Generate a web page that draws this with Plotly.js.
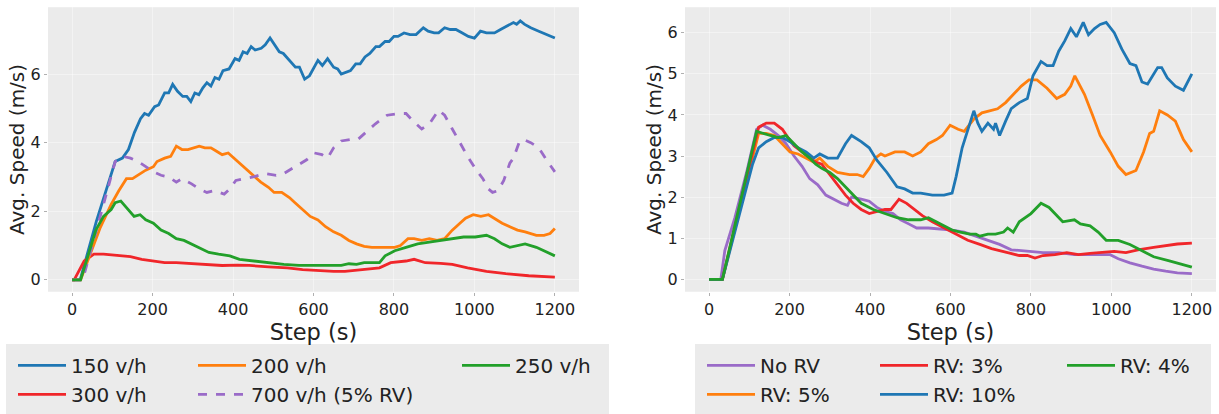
<!DOCTYPE html>
<html>
<head>
<meta charset="utf-8">
<script src="https://cdn.plot.ly/plotly-3.0.1.min.js"></script>
<style>html,body{margin:0;padding:0;background:#fff;}#chart{width:1219px;height:414px;}</style>
</head>
<body>
<div id="chart"></div>
<script>
// ---------- Left panel: traffic flows ----------
const x150 = [0,20,60,107,125,140,155,170,180,190,205,215,230,240,250,262,275,285,295,305,315,325,335,345,355,365,375,390,405,415,425,435,445,455,470,480,492,500,515,525,540,555,565,578,590,600,611,622,635,650,660,669,680,692,705,716,728,740,755,764,778,788,800,810,825,840,855,873,885,900,911,926,940,954,970,985,1000,1015,1030,1050,1065,1080,1097,1105,1114,1125,1140,1160,1180,1200];
const y150 = [0,0,1.7,3.45,3.55,3.8,4.3,4.7,4.85,4.8,5.05,5.1,5.45,5.45,5.7,5.5,5.35,5.35,5.2,5.45,5.4,5.6,5.75,5.65,5.9,5.85,6.1,6.15,6.45,6.4,6.65,6.6,6.8,6.7,6.75,6.85,7.05,6.9,6.65,6.6,6.4,6.2,6.2,5.85,5.95,6.15,6.4,6.25,6.45,6.2,6.15,6.0,6.05,6.1,6.3,6.3,6.5,6.6,6.8,6.8,6.95,6.95,7.1,7.1,7.2,7.15,7.15,7.35,7.25,7.2,7.2,7.35,7.3,7.3,7.2,7.1,7.05,7.25,7.2,7.2,7.3,7.4,7.5,7.45,7.55,7.45,7.35,7.25,7.15,7.05];

const x200 = [0,21,69,97,116,135,150,164,183,202,211,230,245,259,273,288,302,316,330,345,359,373,388,402,416,430,450,469,488,502,521,540,554,573,592,611,630,650,669,688,707,726,745,764,783,802,816,835,850,869,888,907,926,945,964,978,997,1016,1035,1050,1069,1088,1107,1126,1140,1154,1173,1188,1200];
const y200 = [0,0,1.5,2.2,2.6,2.95,2.95,3.05,3.2,3.3,3.45,3.55,3.6,3.9,3.8,3.8,3.85,3.9,3.85,3.85,3.75,3.65,3.7,3.55,3.4,3.25,3.05,2.85,2.7,2.55,2.55,2.4,2.25,2.05,1.85,1.75,1.55,1.4,1.3,1.15,1.05,0.98,0.95,0.95,0.95,0.95,1.0,1.2,1.2,1.15,1.2,1.15,1.2,1.45,1.65,1.8,1.9,1.85,1.9,1.8,1.65,1.55,1.45,1.4,1.35,1.3,1.3,1.35,1.5];

const x250 = [0,21,59,78,97,107,121,135,154,169,183,202,221,240,259,278,297,316,340,364,392,416,450,488,526,564,602,640,669,688,707,726,754,764,778,802,830,859,888,916,945,973,1002,1030,1050,1069,1088,1107,1126,1154,1183,1200];
const y250 = [0,0,1.45,1.85,2.05,2.25,2.3,2.1,1.85,1.9,1.75,1.65,1.45,1.35,1.2,1.15,1.05,0.95,0.8,0.75,0.7,0.6,0.55,0.5,0.45,0.42,0.42,0.4,0.42,0.47,0.45,0.5,0.5,0.5,0.7,0.85,0.95,1.05,1.1,1.15,1.2,1.25,1.25,1.3,1.2,1.05,0.95,1.0,1.05,0.95,0.8,0.7];

const x300 = [0,5,30,54,78,116,145,173,202,230,259,297,335,373,411,440,488,535,573,611,650,678,716,764,792,830,850,878,916,945,983,1030,1078,1135,1200];
const y300 = [0,0,0.55,0.75,0.75,0.72,0.68,0.6,0.55,0.5,0.5,0.48,0.45,0.42,0.43,0.42,0.38,0.35,0.3,0.27,0.25,0.25,0.3,0.35,0.5,0.55,0.6,0.5,0.48,0.45,0.35,0.25,0.18,0.12,0.08];

const x700 = [0,26,50,107,126,145,164,183,202,221,240,259,273,297,316,335,354,378,392,407,430,450,478,507,526,554,583,602,621,635,650,669,697,711,735,754,783,811,830,850,869,888,911,926,945,964,983,1002,1021,1035,1045,1059,1073,1088,1097,1111,1120,1140,1160,1179,1200];
const y700 = [0,0,1.0,3.45,3.6,3.55,3.45,3.3,3.15,3.05,3.0,2.85,2.95,2.8,2.65,2.55,2.6,2.5,2.65,2.9,2.95,3.0,3.1,3.05,3.1,3.3,3.5,3.7,3.65,3.55,3.85,4.05,4.1,4.1,4.35,4.55,4.8,4.85,4.85,4.6,4.4,4.55,4.95,4.8,4.4,4.0,3.6,3.25,2.95,2.65,2.55,2.6,2.9,3.4,3.55,4.0,4.1,4.0,3.85,3.5,3.15];

// ---------- Right panel: RV penetration ----------
const xNoRV = [0,29,39,64,93,118,133,152,172,191,211,231,250,270,290,309,329,344,354,378,398,417,437,457,476,496,516,545,575,604,634,663,693,722,751,791,830,869,908,947,977,997,1017,1046,1076,1105,1135,1164,1200];
const yNoRV = [0,0,0.7,1.5,2.6,3.65,3.75,3.65,3.5,3.3,3.0,2.75,2.45,2.3,2.05,1.95,1.85,1.8,2.0,1.95,1.9,1.75,1.65,1.6,1.45,1.35,1.25,1.25,1.22,1.2,1.15,1.05,0.95,0.85,0.72,0.68,0.65,0.65,0.6,0.6,0.6,0.6,0.5,0.4,0.32,0.25,0.2,0.16,0.14];

const xRV3 = [0,33,123,142,162,182,196,211,231,250,265,280,300,319,339,358,378,398,417,437,452,472,491,511,530,555,584,614,643,673,702,742,771,791,810,830,860,889,918,947,977,1007,1036,1066,1105,1135,1164,1200];
const yRV3 = [0,0,3.7,3.8,3.8,3.65,3.45,3.25,3.1,2.95,2.85,2.8,2.55,2.3,2.05,1.85,1.7,1.6,1.65,1.7,1.7,1.95,1.85,1.7,1.55,1.4,1.25,1.1,0.95,0.85,0.75,0.65,0.58,0.58,0.52,0.58,0.6,0.65,0.6,0.63,0.65,0.68,0.65,0.72,0.78,0.82,0.86,0.88];

const xRV4 = [0,33,118,133,152,172,191,211,231,250,265,280,300,319,339,358,378,408,437,467,496,526,545,565,584,604,624,648,663,673,693,712,732,742,756,771,800,825,845,860,879,908,923,947,967,987,1017,1046,1076,1105,1144,1200];
const yRV4 = [0,0,3.6,3.55,3.5,3.45,3.5,3.3,3.1,2.95,2.8,2.7,2.6,2.45,2.25,2.05,1.85,1.7,1.6,1.5,1.45,1.45,1.5,1.4,1.3,1.2,1.15,1.1,1.1,1.05,1.1,1.1,1.15,1.25,1.15,1.4,1.6,1.85,1.75,1.6,1.4,1.45,1.35,1.3,1.15,0.95,0.95,0.85,0.7,0.55,0.45,0.3];

const xRV5 = [0,33,123,142,162,182,201,221,241,260,275,295,319,349,368,383,398,413,427,437,462,486,506,526,545,565,580,599,619,634,658,678,697,717,737,756,776,795,815,840,864,884,899,909,933,953,972,997,1017,1036,1061,1080,1095,1105,1120,1139,1159,1179,1200];
const yRV5 = [0,0,3.55,3.55,3.5,3.3,3.1,3.05,2.95,2.85,2.95,2.75,2.6,2.55,2.55,2.5,2.7,2.95,3.05,3.0,3.1,3.1,3.0,3.1,3.3,3.4,3.5,3.75,3.65,3.6,3.9,4.05,4.1,4.15,4.3,4.5,4.7,4.85,4.85,4.65,4.4,4.5,4.7,4.95,4.5,4.0,3.5,3.1,2.75,2.55,2.65,3.1,3.55,3.6,4.1,4.0,3.85,3.4,3.1];

const xRV10 = [0,33,108,123,142,162,182,201,221,241,260,275,295,319,339,354,378,398,417,442,467,486,506,526,555,584,604,614,629,653,658,668,678,693,707,712,722,737,751,771,791,805,825,840,855,869,884,899,913,930,943,958,972,987,1007,1026,1046,1061,1076,1090,1100,1115,1125,1139,1159,1179,1200];
const yRV10 = [0,0,2.8,3.2,3.35,3.45,3.45,3.35,3.2,3.1,2.95,3.05,2.95,2.95,3.3,3.5,3.35,3.2,2.9,2.6,2.25,2.2,2.1,2.1,2.05,2.05,2.1,2.5,3.2,3.95,4.1,3.8,3.6,3.8,3.65,3.8,3.5,3.85,4.15,4.3,4.4,4.95,5.3,5.2,5.2,5.55,5.8,6.1,5.9,6.25,5.95,6.1,6.2,6.25,6.0,5.6,5.25,5.2,4.8,4.75,4.9,5.15,5.15,4.9,4.7,4.6,5.0];

const tickVals = [0,200,400,600,800,1000,1200];
const xTitle = 'Step (s)';
const yTitle = 'Avg. Speed (m/s)';

const C = {blue:'#1f77b4', orange:'#ff7f0e', green:'#22a02a', red:'#f0262a', purple:'#9a6bc8'};
const LW = 2.8;

function tr(x, y, name, color, xa, ya, legend, dash) {
  return {x:x, y:y, name:name, type:'scatter', mode:'lines', xaxis:xa, yaxis:ya, legend:legend,
          line:{color:color, width:LW, dash:dash||'solid'}};
}

const data = [
  tr(x150, y150, '150 v/h', C.blue, 'x', 'y', 'legend'),
  tr(x300, y300, '300 v/h', C.red, 'x', 'y', 'legend'),
  tr(x200, y200, '200 v/h', C.orange, 'x', 'y', 'legend2'),
  tr(x700, y700, '700 v/h (5% RV)', C.purple, 'x', 'y', 'legend2', 'dash'),
  tr(x250, y250, '250 v/h', C.green, 'x', 'y', 'legend3'),
  tr(xNoRV, yNoRV, 'No RV', C.purple, 'x2', 'y2', 'legend4'),
  tr(xRV5, yRV5, 'RV: 5%', C.orange, 'x2', 'y2', 'legend4'),
  tr(xRV3, yRV3, 'RV: 3%', C.red, 'x2', 'y2', 'legend5'),
  tr(xRV10, yRV10, 'RV: 10%', C.blue, 'x2', 'y2', 'legend5'),
  tr(xRV4, yRV4, 'RV: 4%', C.green, 'x2', 'y2', 'legend6')
];

const W = 1219, H = 414;
const px = v => v / W;
const py = v => (H - v) / H;
const FONT = 'DejaVu Sans, sans-serif';

function xaxis(domain) {
  return {domain:domain, range:[-60,1260], tickvals:tickVals, ticks:'outside', ticklen:3, tickcolor:'#b0b0b0',
          showgrid:true, gridcolor:'rgba(255,255,255,0.4)', gridwidth:1, zeroline:false, showline:false,
          tickfont:{family:FONT, size:16, color:'#222'},
          title:{text:xTitle, font:{family:FONT, size:22.5, color:'#222'}, standoff:2}};
}
function yaxis(domain, range, anchor, dtick) {
  return {domain:domain, range:range, anchor:anchor, ticks:'outside', ticklen:3, tickcolor:'#b0b0b0', dtick:dtick,
          showgrid:true, gridcolor:'rgba(255,255,255,0.4)', gridwidth:1, zeroline:false, showline:false,
          tickfont:{family:FONT, size:16, color:'#222'},
          title:{text:yTitle, font:{family:FONT, size:20, color:'#222'}, standoff:0}};
}

function leg(xText) {
  return {x:px(xText - 60), y:py(351), xanchor:'left', yanchor:'top', orientation:'v',
          bgcolor:'rgba(0,0,0,0)', borderwidth:0, itemwidth:48, itemclick:false,
          font:{family:FONT, size:20, color:'#222'}};
}

const yDom = [py(296), py(7.3)];
const xa1 = xaxis([px(48), px(579)]); xa1.anchor = 'y';
const xa2 = xaxis([px(685), px(1216)]); xa2.anchor = 'y2';
const layout = {
  width:W, height:H, margin:{l:0, r:0, t:0, b:0}, paper_bgcolor:'#ffffff', plot_bgcolor:'#ebebeb',
  showlegend:true,
  xaxis: xa1,
  yaxis: yaxis(yDom, [-0.345, 7.95], 'x', 2),
  xaxis2: xa2,
  yaxis2: yaxis(yDom, [-0.30, 6.62], 'x2', 1),
  legend: leg(73), legend2: leg(253), legend3: leg(517),
  legend4: leg(762), legend5: leg(935), legend6: leg(1122),
  shapes: [
    {type:'rect', xref:'paper', yref:'paper', x0:px(6), x1:px(609), y0:py(420), y1:py(349), fillcolor:'#ebebeb', line:{width:0}, layer:'below'},
    {type:'rect', xref:'paper', yref:'paper', x0:px(695), x1:px(1211), y0:py(420), y1:py(349), fillcolor:'#ebebeb', line:{width:0}, layer:'below'}
  ]
};

Plotly.newPlot('chart', data, layout, {staticPlot:true, displayModeBar:false});
</script>
</body>
</html>
